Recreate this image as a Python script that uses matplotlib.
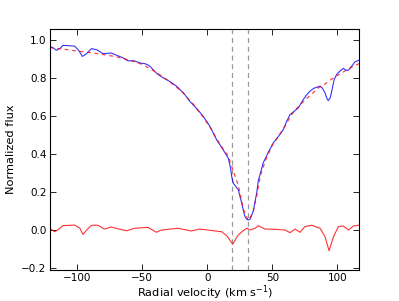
import matplotlib
matplotlib.use("Agg")
import matplotlib.pyplot as plt

# observed line profile (blue)
obs_v = [-121, -118, -116, -113, -111, -106, -102, -99, -96, -93, -89, -85, -80, -74,
         -69, -65, -61, -56, -52, -48, -45, -43, -40, -38, -34, -30, -23.5, -18, -13.3,
         -8, -3, 2, 7.2, 10, 12.3, 15, 16.2, 18, 18.8, 20, 22, 23.8, 25, 26.5, 28, 29,
         30.5, 31.5, 33, 35.4, 37, 38, 39.2, 40.5, 43, 47, 50.8, 55, 58.5, 61, 63.6, 67,
         70, 73.8, 77, 79, 82, 86.7, 88.5, 90.5, 92, 93, 94.5, 95.7, 97.5, 99.5, 102,
         104.6, 106.5, 108.5, 111, 113.6, 117]
obs_flux = [0.965, 0.955, 0.944, 0.955, 0.970, 0.968, 0.966, 0.945, 0.912, 0.925, 0.953,
            0.947, 0.926, 0.930, 0.916, 0.905, 0.889, 0.889, 0.878, 0.874, 0.865, 0.853,
            0.830, 0.818, 0.800, 0.785, 0.755, 0.718, 0.675, 0.637, 0.596, 0.545, 0.474,
            0.445, 0.420, 0.390, 0.377, 0.320, 0.280, 0.245, 0.228, 0.212, 0.180, 0.140,
            0.095, 0.070, 0.055, 0.053, 0.058, 0.100, 0.160, 0.195, 0.260, 0.290, 0.353,
            0.410, 0.458, 0.495, 0.528, 0.570, 0.607, 0.625, 0.642, 0.686, 0.715, 0.730,
            0.745, 0.756, 0.745, 0.720, 0.690, 0.680, 0.695, 0.730, 0.790, 0.818, 0.835,
            0.849, 0.840, 0.839, 0.860, 0.884, 0.893]

# model profile (red dashed)
model_v = [-121, -110, -100, -90, -80, -70, -60, -50, -40, -30, -20, -10, -3, 3, 8, 12,
           16, 19.5, 23.8, 27.7, 31.5, 35, 38, 41, 45, 50, 55, 60, 65, 70, 75, 80, 85,
           90, 95, 100, 105, 110, 117]
model_flux = [0.958, 0.950, 0.940, 0.932, 0.922, 0.910, 0.893, 0.870, 0.832, 0.785,
              0.730, 0.655, 0.592, 0.530, 0.470, 0.428, 0.390, 0.320, 0.236, 0.110,
              0.050, 0.090, 0.180, 0.290, 0.370, 0.447, 0.495, 0.550, 0.608, 0.648,
              0.683, 0.712, 0.745, 0.765, 0.790, 0.812, 0.832, 0.852, 0.875]

# residuals (red solid)
res_v = [-121, -117.4, -114, -111, -102, -98, -95.6, -92, -89, -84, -79, -74, -69, -62,
         -56, -45.6, -39, -35.4, -22.5, -12.3, -6, 0.5, 11, 15, 19.5, 23.8, 27.7, 30.3,
         32.8, 36.7, 39.2, 44.4, 52, 59.8, 63.6, 67.5, 71.3, 75, 80.3, 86.7, 90.5, 93.6,
         97, 100.8, 104.6, 108.5, 112.3, 117]
res_flux = [0.009, -0.009, 0.005, 0.023, 0.026, 0.010, -0.023, 0.005, 0.025, 0.025,
            0.005, 0.016, 0.007, -0.004, 0.009, 0.014, -0.012, 0.000, 0.009, -0.005,
            0.005, 0.000, -0.009, -0.030, -0.074, -0.026, -0.003, 0.009, 0.000, 0.009,
            0.023, 0.005, 0.004, 0.000, -0.014, 0.005, -0.012, 0.018, 0.025, 0.009,
            -0.035, -0.109, -0.035, 0.018, 0.021, 0.000, 0.021, 0.026]

# marked velocities
vel_marks = [19.2, 31.5]

fig = plt.figure(figsize=(3.99, 3.01), dpi=100)
ax = fig.add_axes([0.125, 0.103, 0.776, 0.8])

for v in vel_marks:
    ax.axvline(v, color="#999999", linestyle="--", linewidth=0.9, dashes=(4, 3))

ax.plot(obs_v, obs_flux, color="blue", linewidth=0.8, alpha=0.8)
ax.plot(model_v, model_flux, color="red", linewidth=0.9, linestyle="--",
        dashes=(3, 3), alpha=0.75)
ax.plot(res_v, res_flux, color="red", linewidth=0.8, alpha=0.8)

ax.set_xlim(-121, 117)
ax.set_ylim(-0.21, 1.055)
ax.set_xticks([-100, -50, 0, 50, 100])
ax.set_yticks([-0.2, 0.0, 0.2, 0.4, 0.6, 0.8, 1.0])
ax.tick_params(direction="in", top=True, right=True, length=4, width=0.6,
               labelsize=7.5, pad=2.5)
for s in ax.spines.values():
    s.set_linewidth(0.8)

ax.set_xlabel("Radial velocity (km s$^{-1}$)", fontsize=8.2, labelpad=0)
ax.set_ylabel("Normalized flux", fontsize=8.2, labelpad=4)

fig.savefig("out.png", dpi=100)
